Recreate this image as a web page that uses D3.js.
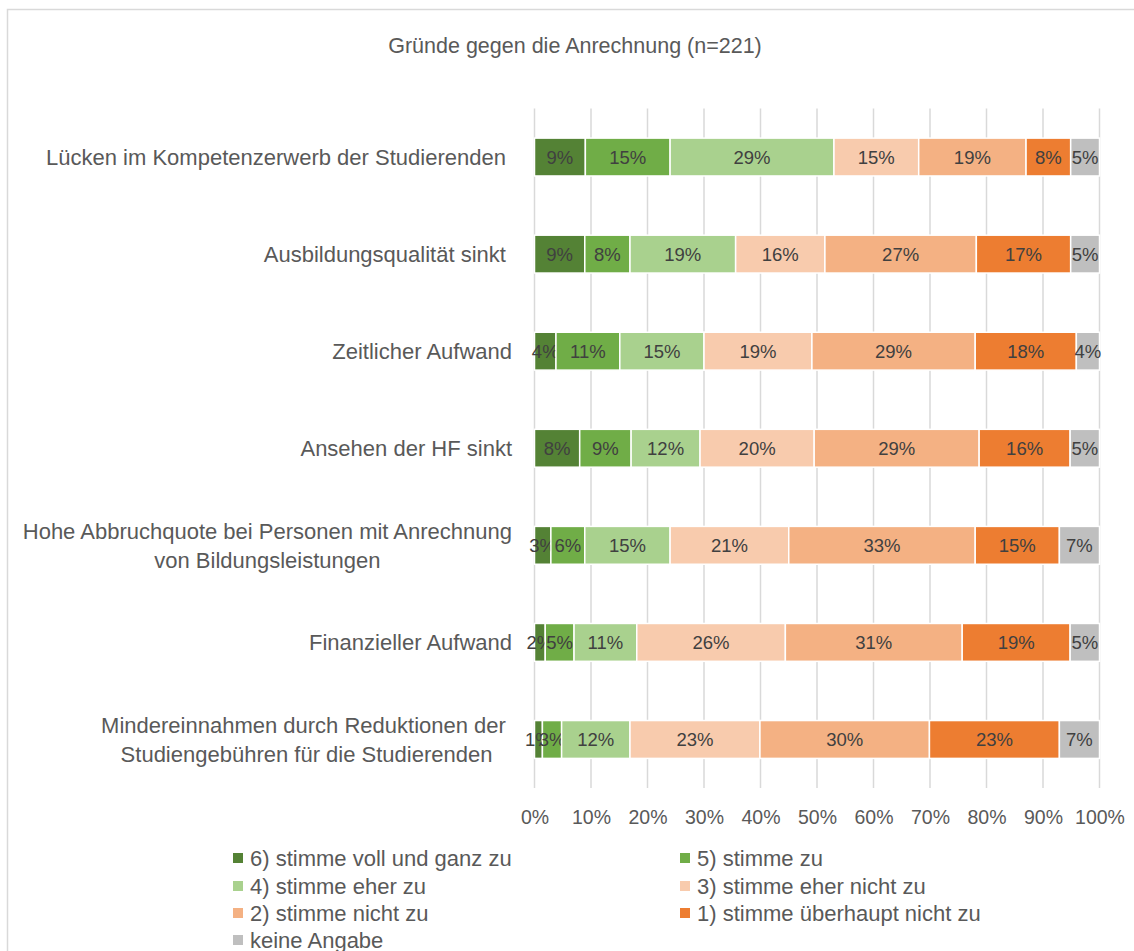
<!DOCTYPE html>
<html>
<head>
<meta charset="utf-8">
<script src="https://cdn.jsdelivr.net/npm/d3@7"></script>
<style>
  body { margin: 0; background: #fff; }
  text { font-family: "Liberation Sans", Arial, sans-serif; white-space: pre; }
</style>
</head>
<body>
<div id="chart"></div>
<script>
// categories, top to bottom ("|" = line break)
var categories = [
	'Lücken im Kompetenzerwerb der Studierenden ',
	'Ausbildungsqualität sinkt ',
	'Zeitlicher Aufwand',
	'Ansehen der HF sinkt',
	'Hohe Abbruchquote bei Personen mit Anrechnung|von Bildungsleistungen',
	'Finanzieller Aufwand',
	'Mindereinnahmen durch Reduktionen der |Studiengebühren für die Studierenden'
];

var seriesNames = [
	'6) stimme voll und ganz zu',
	'5) stimme zu',
	'4) stimme eher zu',
	'3) stimme eher nicht zu',
	'2) stimme nicht zu',
	'1) stimme überhaupt nicht zu',
	'keine Angabe'
];

// percentages per answer, one value per category
var stimme6 = [9.0, 8.9, 3.8, 8.0, 2.9, 1.9, 1.4];
var stimme5 = [15.0, 8.0, 11.3, 9.1, 6.0, 5.1, 3.4];
var stimme4 = [29.0, 18.7, 14.9, 12.2, 15.1, 11.1, 12.1];
var stimme3 = [15.0, 15.8, 19.1, 20.2, 21.0, 26.3, 23.0];
var stimme2 = [19.0, 26.8, 28.9, 29.2, 33.0, 31.3, 30.0];
var stimme1 = [7.9, 16.7, 17.9, 16.1, 14.9, 19.1, 23.0];
var keineAngabe = [5.1, 5.1, 4.1, 5.2, 7.1, 5.2, 7.1];

var xTicks = [0, 10, 20, 30, 40, 50, 60, 70, 80, 90, 100];

var colors = ['#548235', '#70AD47', '#A9D18E', '#F8CBAD', '#F4B183', '#ED7D31', '#BFBFBF'];

(function() {
	var svgWidth = 1134,
		svgHeight = 951,
		plotLeft = 534.5,
		plotRight = 1099.5,
		plotTop = 108.5,
		plotBottom = 788,
		textColor = '#595959';

	var allSeries = [stimme6, stimme5, stimme4, stimme3, stimme2, stimme1, keineAngabe];

	var rows = categories.map(function(cat, i) {
		var row = { cat: cat };
		seriesNames.forEach(function(name, j) { row[name] = allSeries[j][i]; });
		return row;
	});

	var stacked = d3.stack().keys(seriesNames)(rows);

	var x = d3.scaleLinear().domain([0, 100]).range([plotLeft, plotRight]);
	var y = d3.scaleBand().domain(categories).range([plotTop, plotBottom])
		.paddingInner(0.61).paddingOuter(0.305);

	var svg = d3.select('#chart')
		.append('svg')
		.attr('width', svgWidth)
		.attr('height', svgHeight);

	// chart frame
	svg.append('rect')
		.attr('x', 7.5).attr('y', 9.5)
		.attr('width', 1140).attr('height', 960)
		.attr('fill', 'none')
		.attr('stroke', '#D9D9D9')
		.attr('stroke-width', 1.5);

	svg.append('text')
		.text('Gründe gegen die Anrechnung (n=221)')
		.attr('x', 575)
		.attr('y', 53)
		.attr('text-anchor', 'middle')
		.attr('font-size', '21.5px')
		.attr('fill', textColor);

	// gridlines
	svg.append('g')
		.selectAll('line')
		.data(xTicks)
		.enter().append('line')
		.attr('x1', function(d) { return x(d); })
		.attr('x2', function(d) { return x(d); })
		.attr('y1', plotTop)
		.attr('y2', plotBottom)
		.attr('stroke', '#D9D9D9')
		.attr('stroke-width', 1.5);

	// x axis labels
	var xAxis = svg.append('g')
		.attr('transform', 'translate(0,' + plotBottom + ')')
		.call(d3.axisBottom(x).tickValues(xTicks).tickSize(0).tickPadding(18)
			.tickFormat(function(d) { return d + '%'; }));
	xAxis.select('.domain').remove();
	xAxis.selectAll('text')
		.attr('font-size', '19.5px')
		.attr('font-family', '"Liberation Sans", Arial, sans-serif')
		.attr('fill', textColor)
		.attr('dy', '0.9em');

	// bars
	var groups = svg.append('g')
		.selectAll('g')
		.data(stacked)
		.enter().append('g')
		.attr('fill', function(d, i) { return colors[i]; });

	groups.selectAll('rect')
		.data(function(d) { return d; })
		.enter().append('rect')
		.attr('x', function(d) { return x(d[0]); })
		.attr('width', function(d) { return x(d[1]) - x(d[0]); })
		.attr('y', function(d) { return y(d.data.cat); })
		.attr('height', y.bandwidth())
		.attr('stroke', '#fff')
		.attr('stroke-width', 1.5);

	groups.selectAll('text')
		.data(function(d) { return d; })
		.enter().append('text')
		.text(function(d) { return Math.round(d[1] - d[0]) + '%'; })
		.attr('x', function(d) { return (x(d[0]) + x(d[1])) / 2; })
		.attr('y', function(d) { return y(d.data.cat) + y.bandwidth() / 2 + 6.5; })
		.attr('text-anchor', 'middle')
		.attr('font-size', '18.5px')
		.attr('fill', '#404040');

	// category labels
	var labelRight = 512;
	categories.forEach(function(cat) {
		var lines = cat.split('|');
		var cy = y(cat) + y.bandwidth() / 2;
		var lineH = 29;
		var g = svg.append('g');
		var texts = lines.map(function(line, k) {
			return g.append('text')
				.text(line)
				.attr('y', cy + (k - (lines.length - 1) / 2) * lineH + 8)
				.attr('font-size', '22px')
				.attr('fill', textColor);
		});
		if (lines.length == 1) {
			texts[0].attr('x', labelRight).attr('text-anchor', 'end');
		} else {
			var maxW = d3.max(texts, function(t) { return t.node().getComputedTextLength(); });
			texts.forEach(function(t) {
				t.attr('x', labelRight - maxW / 2).attr('text-anchor', 'middle');
			});
		}
	});

	// legend
	var legendCols = [233, 680],
		legendRows = [858, 886, 913, 940];

	var legend = svg.append('g')
		.selectAll('g')
		.data(seriesNames)
		.enter().append('g')
		.attr('transform', function(d, i) {
			return 'translate(' + legendCols[i % 2] + ',' + legendRows[Math.floor(i / 2)] + ')';
		});

	legend.append('rect')
		.attr('x', 0)
		.attr('y', -5)
		.attr('width', 10)
		.attr('height', 10)
		.attr('fill', function(d, i) { return colors[i]; });

	legend.append('text')
		.text(function(d) { return d; })
		.attr('x', 17)
		.attr('y', 8)
		.attr('font-size', '22px')
		.attr('fill', textColor);
})();
</script>
</body>
</html>
